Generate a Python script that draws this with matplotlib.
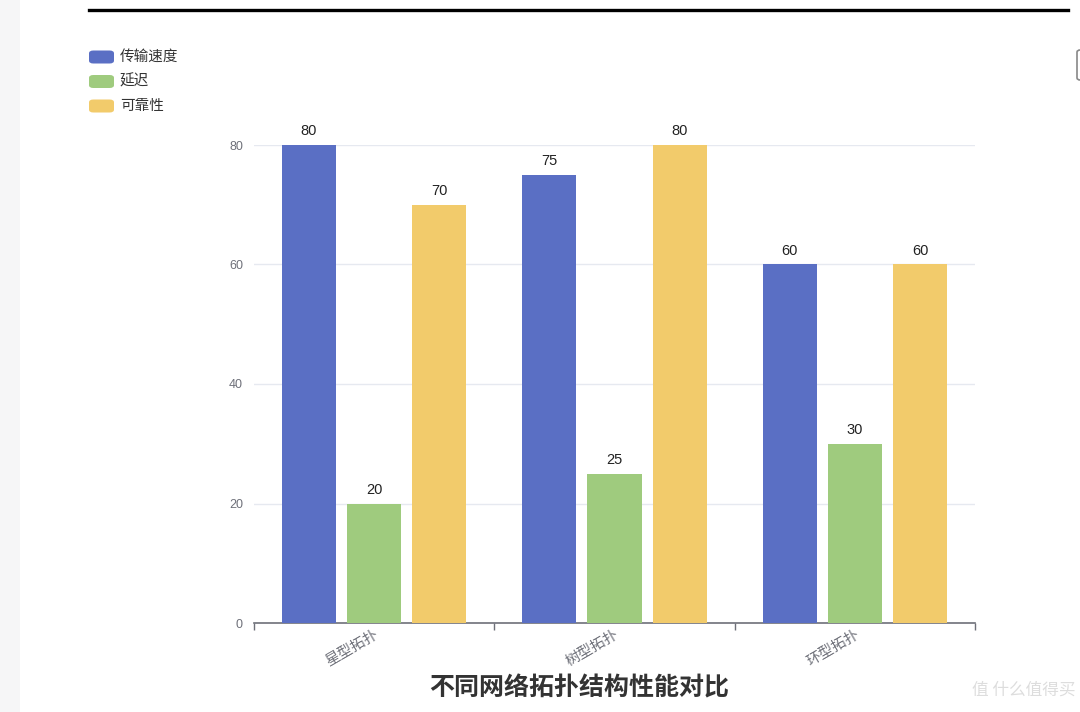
import matplotlib
matplotlib.use("Agg")
import matplotlib.pyplot as plt
from matplotlib.patches import FancyBboxPatch, Rectangle
from matplotlib.lines import Line2D
import numpy as np

plt.rcParams['font.family'] = ['Noto Sans CJK SC', 'DejaVu Sans']
NUM_FONT = ['Liberation Sans', 'DejaVu Sans']

# data
categories = ['星型拓扑', '树型拓扑', '环型拓扑']
series_names = ['传输速度', '延迟', '可靠性']
speed = [80, 75, 60]
latency = [20, 25, 30]
reliability = [70, 80, 60]
colors = ['#5a6fc4', '#9fcb7e', '#f2cb6b']
yticks = [0, 20, 40, 60, 80]

fig = plt.figure(figsize=(10.8, 7.12), dpi=100)
fig.patch.set_facecolor('white')

# screenshot frame bits
fig.add_artist(Rectangle((0, 0), 20 / 1080, 1, transform=fig.transFigure,
                         facecolor='#f6f6f7', edgecolor='none'))
fig.add_artist(Line2D([89 / 1080, 1068 / 1080], [1 - 10 / 712, 1 - 10 / 712],
                      transform=fig.transFigure, color='black', lw=2.4))
fig.add_artist(FancyBboxPatch((1077 / 1080, 1 - 80 / 712), 10 / 1080, 30 / 712,
                              boxstyle='round,pad=0,rounding_size=0.003',
                              transform=fig.transFigure, facecolor='white',
                              edgecolor='#888888', lw=1.2))

ax = fig.add_axes([254 / 1080, 89 / 712, 721 / 1080, 478 / 712])
x = np.arange(len(categories))
width = 0.225
offset = 0.271
for i, (vals, name) in enumerate(zip([speed, latency, reliability], series_names)):
    bars = ax.bar(x + (i - 1) * offset, vals, width, color=colors[i], label=name, zorder=3)
    for b, v in zip(bars, vals):
        ax.text(b.get_x() + b.get_width() / 2, v + 1.1, str(v), ha='center', va='bottom',
                fontsize=10.5, color='#222222', family=NUM_FONT)

ax.set_xlim(-0.5, len(categories) - 0.5)
ax.set_ylim(0, 80)
ax.set_yticks(yticks)
ax.set_yticklabels([str(t) for t in yticks], fontsize=9, color='#6e7079', family=NUM_FONT)
ax.tick_params(axis='y', length=0, pad=8)
ax.grid(axis='y', color='#e6e9f0', lw=1, zorder=0)
ax.set_xticks(x)
ax.set_xticklabels(categories, rotation=30, ha='right', rotation_mode='anchor',
                   fontsize=10.5, color='#6e7079')
ax.tick_params(axis='x', which='major', length=0, pad=3)
ax.set_xticks(np.arange(-0.5, len(categories)), minor=True)
ax.tick_params(axis='x', which='minor', length=5, color='#6e7079', width=1)
for s in ['top', 'right', 'left']:
    ax.spines[s].set_visible(False)
ax.spines['bottom'].set_color('#6e7079')
ax.spines['bottom'].set_linewidth(1.2)
ax.set_axisbelow(True)

# legend drawn by hand as rounded swatches
for i, name in enumerate(series_names):
    yc = 1 - (57 + i * 24.5) / 712
    fig.add_artist(FancyBboxPatch((89 / 1080, yc - 6.5 / 712), 25 / 1080, 13 / 712,
                                  boxstyle='round,pad=0,rounding_size=0.004',
                                  transform=fig.transFigure, facecolor=colors[i],
                                  edgecolor='none'))
    fig.text(120 / 1080, yc, name, fontsize=10.5, color='#333333', va='center', ha='left')

fig.text(579 / 1080, 1 - 688 / 712, '不同网络拓扑结构性能对比', fontsize=18,
         fontweight='bold', color='#333333', ha='center', va='center')

fig.text(1075 / 1080, 1 - 690 / 712, '值 什么值得买', fontsize=12, color='#dddddd',
         ha='right', va='center')

fig.savefig('out.png', dpi=100, facecolor='white')
